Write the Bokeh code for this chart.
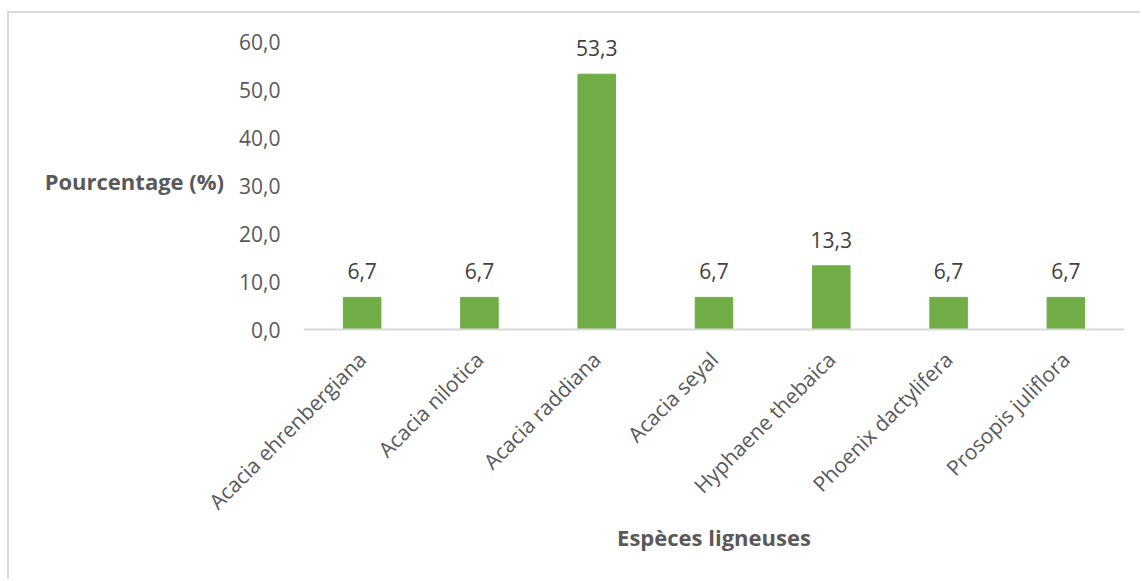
from math import pi

from bokeh.core.properties import value
from bokeh.embed import file_html
from bokeh.models import (ColumnDataSource, CustomJSTickFormatter, FactorRange,
                          FixedTicker, LabelSet, Range1d)
from bokeh.plotting import figure
from bokeh.resources import INLINE

# Share of each woody species (%)
species = [
    "Acacia ehrenbergiana",
    "Acacia nilotica",
    "Acacia raddiana",
    "Acacia seyal",
    "Hyphaene thebaica",
    "Phoenix dactylifera",
    "Prosopis juliflora",
]
percentages = [6.7, 6.7, 53.3, 6.7, 13.3, 6.7, 6.7]
y_ticks = [0, 10, 20, 30, 40, 50, 60]

FONT = "Open Sans"
BAR = "#70AD47"
AXIS_TXT = "#595959"
DATA_TXT = "#404040"

source = ColumnDataSource(dict(
    species=species,
    pct=percentages,
    label=[f"{v:.1f}".replace(".", ",") for v in percentages],
))

# a little headroom above 60 so the tallest value label is not clipped
p = figure(
    width=1133, height=568,
    x_range=FactorRange(*species, range_padding=0),
    y_range=Range1d(0, 62),
    output_backend="svg", toolbar_location=None,
    min_border_left=294, min_border_right=18,
    min_border_top=19, min_border_bottom=252,
)
p.margin = (11, 0, 0, 7)
p.styles = {"border-left": "2px solid #D9D9D9", "border-top": "2px solid #D9D9D9"}
p.outline_line_color = None
p.background_fill_color = "white"
p.border_fill_color = "white"
p.grid.visible = False

p.vbar(x="species", top="pct", width=0.32, source=source,
       fill_color=BAR, line_color=BAR)

p.add_layout(LabelSet(x="species", y="pct", text="label", source=source,
                      y_offset=26, text_align="center", text_baseline="middle",
                      text_font=value(FONT), text_font_size="21px",
                      text_color=DATA_TXT))

# y axis: no line, no ticks, comma decimals, horizontal title
yax = p.yaxis[0]
yax.ticker = FixedTicker(ticks=y_ticks)
yax.formatter = CustomJSTickFormatter(code="return tick.toFixed(1).replace('.', ',');")
yax.axis_line_color = None
yax.major_tick_line_color = None
yax.minor_tick_line_color = None
yax.major_tick_out = 0
yax.major_tick_in = 0
yax.major_label_standoff = 23
yax.major_label_text_font = FONT
yax.major_label_text_font_size = "21px"
yax.major_label_text_color = AXIS_TXT
yax.axis_label = "Pourcentage (%)"
yax.axis_label_orientation = "horizontal"
yax.axis_label_standoff = 12
yax.axis_label_text_font = FONT
yax.axis_label_text_font_size = "22px"
yax.axis_label_text_font_style = "bold"
yax.axis_label_text_color = AXIS_TXT

# x axis: light baseline with slanted species names
xax = p.xaxis[0]
xax.axis_line_color = "#D9D9D9"
xax.axis_line_width = 2
xax.major_tick_line_color = None
xax.minor_tick_line_color = None
xax.major_tick_out = 0
xax.major_tick_in = 0
xax.major_label_orientation = pi / 4
xax.major_label_standoff = 26
xax.major_label_text_font = FONT
xax.major_label_text_font_size = "21px"
xax.major_label_text_color = AXIS_TXT
xax.axis_label = "Espèces ligneuses"
xax.axis_label_standoff = -6
xax.axis_label_text_font = FONT
xax.axis_label_text_font_size = "22px"
xax.axis_label_text_font_style = "bold"
xax.axis_label_text_color = AXIS_TXT

open("out.html", "w").write(file_html(p, INLINE))
